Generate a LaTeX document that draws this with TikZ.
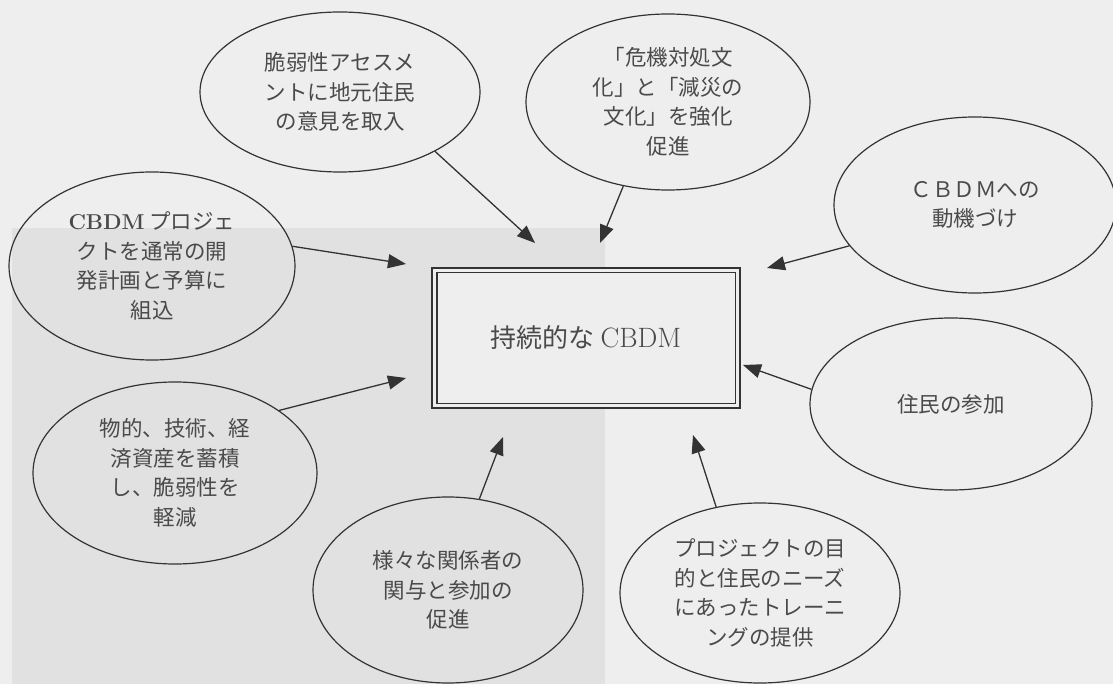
\documentclass[tikz,border=0pt]{standalone}
\usepackage{fontspec}
\newfontfamily\jp{Noto Sans CJK JP}
\usetikzlibrary{shapes.geometric,arrows.meta}
\definecolor{bgA}{HTML}{EEEEEE}
\definecolor{bgB}{HTML}{E1E1E1}
\definecolor{ink}{HTML}{333333}
\definecolor{txt}{HTML}{4A4A4A}
\begin{document}
\begin{tikzpicture}[x=1pt,y=-1pt,
  bubble/.style={ellipse,draw=ink,line width=1.2pt,inner sep=0pt,align=center,text=txt,
    font=\jp\fontsize{21.5}{29.5}\selectfont},
  arr/.style={draw=ink,line width=1.3pt,-{Triangle[length=18pt,width=14pt]}},
  corebox/.style={draw=ink,line width=1.1pt,fill=bgA,minimum width=308pt,minimum height=140pt,
    inner sep=0pt,text=txt,font=\jp\fontsize{26}{30}\selectfont}]
\useasboundingbox (0,0) rectangle (1113,684);
\fill[bgA] (0,0) rectangle (1113,684);
\fill[bgB] (12,228) rectangle (605,684);

% central box
\node[corebox] (core) at (586,338) {持続的な {\rmfamily\fontsize{28}{30}\selectfont CBDM}};
\draw[ink,line width=1.1pt] ([shift={(5.5pt,-5.5pt)}]core.north west) rectangle ([shift={(-5.5pt,5.5pt)}]core.south east);

% bubbles
\node[bubble,minimum width=280pt,minimum height=160pt] (e1) at (340,92) {脆弱性アセスメ\\ントに地元住民\\の意見を取入};
\node[bubble,minimum width=284pt,minimum height=176pt] (e2) at (668,102) {「危機対処文\\化」と「減災の\\文化」を強化\\促進};
\node[bubble,minimum width=282pt,minimum height=176pt] (e3) at (975,205) {ＣＢＤＭへの\\動機づけ};
\node[bubble,minimum width=286pt,minimum height=188pt] (e4) at (152,266) {{\rmfamily\bfseries CBDM} プロジェ\\クトを通常の開\\発計画と予算に\\組込};
\node[bubble,minimum width=284pt,minimum height=182pt] (e5) at (175,473) {物的、技術、経\\済資産を蓄積\\し、脆弱性を\\軽減};
\node[bubble,minimum width=270pt,minimum height=186pt] (e6) at (448,590) {様々な関係者の\\関与と参加の\\促進};
\node[bubble,minimum width=280pt,minimum height=180pt] (e7) at (760,593) {プロジェクトの目\\的と住民のニーズ\\にあったトレーニ\\ングの提供};
\node[bubble,minimum width=282pt,minimum height=172pt] (e8) at (951,404) {住民の参加};

% arrow tips
\coordinate (t1) at (535,243);
\coordinate (t2) at (600,243);
\coordinate (t3) at (767,268);
\coordinate (t4) at (406,264);
\coordinate (t5) at (406,378);
\coordinate (t6) at (503,437);
\coordinate (t7) at (693,435);
\coordinate (t8) at (743,365);

\draw[arr] (e1.-32) -- (t1);
\draw[arr] (e2.-118) -- (t2);
\draw[arr] (e3.-162) -- (t3);
\draw[arr] (e4.8) -- (t4);
\draw[arr] (e5.31) -- (t5);
\draw[arr] (e6.71) -- (t6);
\draw[arr] (e7.117) -- (t7);
\draw[arr] (e8.174) -- (t8);
\end{tikzpicture}
\end{document}
